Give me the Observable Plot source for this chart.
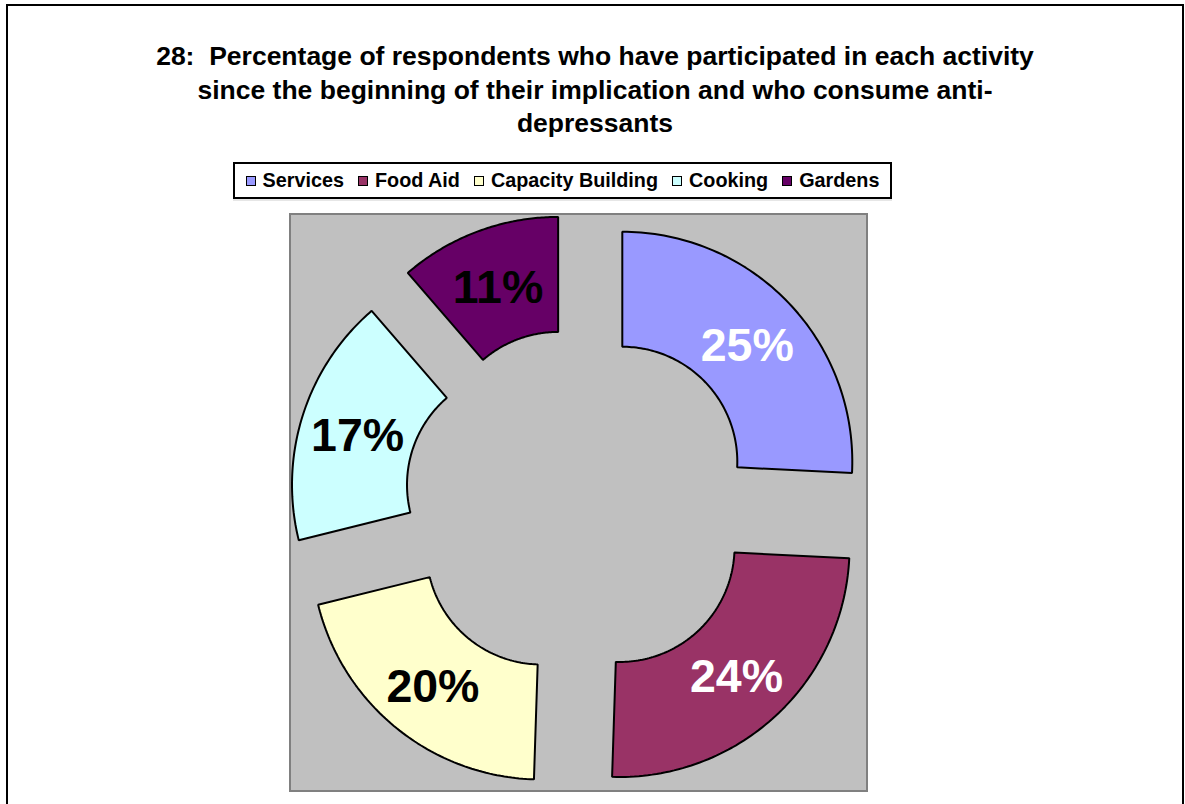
<!DOCTYPE html>
<html><head><meta charset="utf-8">
<script src="https://cdn.jsdelivr.net/npm/d3@7"></script>
<script src="https://cdn.jsdelivr.net/npm/@observablehq/plot@0.6"></script>
<style>
html,body{margin:0;padding:0;background:#fff;}
body{width:1185px;height:804px;overflow:hidden;position:relative;font-family:"Liberation Sans",Arial,sans-serif;}
#frame{position:absolute;left:6px;top:4px;width:1174px;height:900px;border:2px solid #000;}
#title{position:absolute;left:0;top:40px;width:1190px;text-align:center;font-weight:bold;font-size:26.5px;line-height:33.5px;white-space:pre;color:#000;}
#legend{position:absolute;left:233px;top:162px;width:655px;height:33px;border:2px solid #000;background:#fff;display:flex;align-items:center;justify-content:center;box-shadow:0 2px 0 #e6e6e6;}
.item{display:flex;align-items:center;font-weight:bold;font-size:19.8px;margin:0 7px;white-space:nowrap;}
.sw{width:8px;height:8px;border:1.5px solid #000;margin-right:7px;}
#plotbox{position:absolute;left:289px;top:213px;width:575px;height:575px;border:2px solid #808080;background:#C0C0C0;}
</style>
</head><body>
<div id="frame"></div>
<div id="title"></div>
<div id="legend"></div>
<div id="plotbox"></div>
<script>
const titleLines = ["28:  Percentage of respondents who have participated in each activity", "since the beginning of their implication and who consume anti-", "depressants"];
const categories = ["Services", "Food Aid", "Capacity Building", "Cooking", "Gardens"];
const values = [25, 24, 20, 17, 11];
const labels = ["25%", "24%", "20%", "17%", "11%"];
const colors = ["#9999FF", "#993366", "#FFFFCC", "#CCFFFF", "#660066"];
const labelColors = ["#FFFFFF", "#FFFFFF", "#000000", "#000000", "#000000"];
const holeRatio = 0.5;
const explode = 0.26;

document.getElementById("title").textContent = titleLines.join("\n");

const legend = document.getElementById("legend");
categories.forEach((c, i) => {
  const it = document.createElement("div");
  it.className = "item";
  const sw = document.createElement("div");
  sw.className = "sw";
  sw.style.background = colors[i];
  it.appendChild(sw);
  const t = document.createElement("span");
  t.textContent = c;
  it.appendChild(t);
  legend.appendChild(it);
});

const rows = categories.map((c, i) => ({name: c, value: values[i], label: labels[i], color: colors[i], lc: labelColors[i]}));
const arcs = d3.pie().sort(null).value(d => d.value)(rows);

const slicePoints = [];
const labelRows = [];
arcs.forEach(a => {
  const s = a.startAngle, e = a.endAngle, mid = (s + e) / 2;
  const ox = explode * Math.sin(mid), oy = explode * Math.cos(mid);
  const n = 80;
  const pts = [];
  for (let k = 0; k <= n; k++) {
    const t = s + (e - s) * k / n;
    pts.push({name: a.data.name, x: ox + Math.sin(t), y: oy + Math.cos(t)});
  }
  for (let k = n; k >= 0; k--) {
    const t = s + (e - s) * k / n;
    pts.push({name: a.data.name, x: ox + holeRatio * Math.sin(t), y: oy + holeRatio * Math.cos(t)});
  }
  slicePoints.push({row: a.data, pts});
  const rm = (1 + holeRatio) / 2;
  labelRows.push({x: ox + rm * Math.sin(mid), y: oy + rm * Math.cos(mid), text: a.data.label, lc: a.data.lc});
});

const half = 1.25;
const marks = slicePoints.map(sp => Plot.line(sp.pts, {x: "x", y: "y", fill: sp.row.color, stroke: "#000", strokeWidth: 2, curve: "linear-closed", strokeLinejoin: "miter"}));
marks.push(Plot.text(labelRows, {x: "x", y: "y", text: "text", fill: "lc", fontSize: 46.5, fontWeight: "bold", fontFamily: "Liberation Sans, Arial, sans-serif", textAnchor: "middle", lineAnchor: "middle", dy: 3}));

const chart = Plot.plot({
  width: 575,
  height: 575,
  margin: 0,
  x: {domain: [-half, half], axis: null},
  y: {domain: [-half, half], axis: null},
  color: {type: "identity"},
  style: {background: "#C0C0C0", overflow: "visible"},
  marks
});
document.getElementById("plotbox").appendChild(chart);
</script>
</body></html>
